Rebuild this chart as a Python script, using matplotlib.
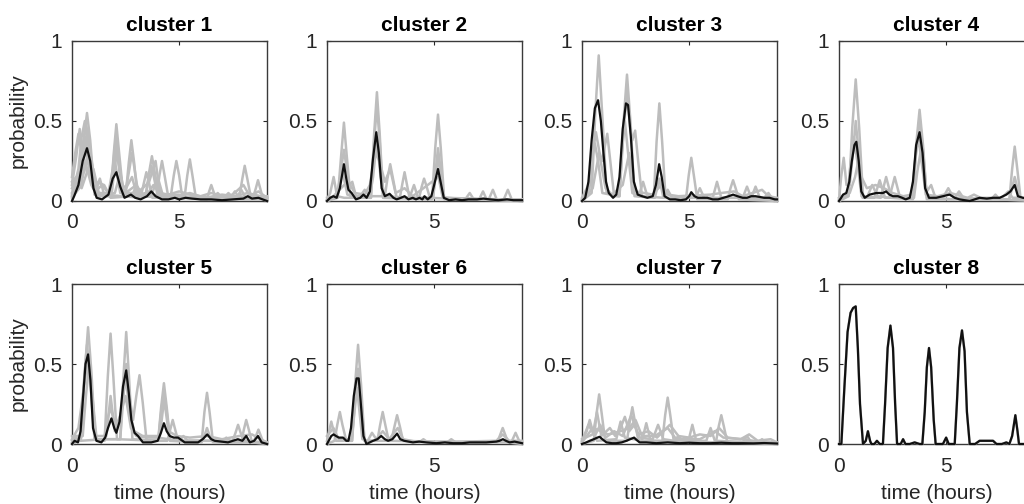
import numpy as np
import matplotlib
matplotlib.use("Agg")
import matplotlib.pyplot as plt

plt.rcParams['font.family'] = ['Liberation Sans', 'DejaVu Sans']

#--------------------------------------------------------------------------
# DATA  (time in hours, probability)

titles = ['cluster 1', 'cluster 2', 'cluster 3', 'cluster 4',
          'cluster 5', 'cluster 6', 'cluster 7', 'cluster 8']
x_ticks = [0, 5]
y_ticks = [0, 0.5, 1]
y_tick_labels = ['0', '0.5', '1']

# cluster 1
c1_mean = [(0, 0.0), (0.1, 0.03), (0.3, 0.10), (0.5, 0.25), (0.7, 0.33), (0.85, 0.25), (1.0, 0.08),
           (1.15, 0.02), (1.4, 0.01), (1.7, 0.04), (1.9, 0.14), (2.07, 0.18), (2.25, 0.09), (2.45, 0.02),
           (2.6, 0.03), (2.75, 0.04), (2.95, 0.02), (3.2, 0.01), (3.5, 0.03), (3.7, 0.06), (3.9, 0.03),
           (4.2, 0.01), (4.5, 0.01), (4.8, 0.02), (5.0, 0.01), (5.3, 0.02), (5.6, 0.015), (6.0, 0.01),
           (6.5, 0.01), (7.0, 0.005), (7.5, 0.01), (8.0, 0.015), (8.2, 0.03), (8.4, 0.015), (8.7, 0.02),
           (8.9, 0.01), (9.1, 0.0)]
c1_members = [
    [(0, 0.05), (0.35, 0.1), (0.55, 0.38), (0.7, 0.55), (0.85, 0.38), (1.05, 0.04), (1.8, 0.03), (1.95, 0.3),
     (2.07, 0.48), (2.2, 0.3), (2.4, 0.03), (3.45, 0.03), (3.6, 0.18), (3.73, 0.28), (3.86, 0.18), (4.05, 0.02),
     (7.8, 0.02), (7.95, 0.14), (8.06, 0.22), (8.18, 0.14), (8.35, 0.02), (9.1, 0.01)],
    [(0, 0.1), (0.2, 0.28), (0.36, 0.45), (0.5, 0.28), (0.7, 0.2), (0.9, 0.1), (1.2, 0.03), (2.5, 0.03),
     (2.65, 0.24), (2.77, 0.38), (2.9, 0.24), (3.05, 0.03), (4.6, 0.02), (4.75, 0.16), (4.87, 0.25), (5.0, 0.16),
     (5.15, 0.02), (6.3, 0.01), (6.4, 0.06), (6.5, 0.1), (6.6, 0.06), (6.75, 0.01), (9.1, 0.01)],
    [(0, 0.02), (0.45, 0.1), (0.58, 0.3), (0.72, 0.45), (0.86, 0.3), (1.0, 0.1), (1.2, 0.05), (1.8, 0.05),
     (1.95, 0.22), (2.07, 0.35), (2.2, 0.22), (2.35, 0.04), (3.95, 0.03), (4.08, 0.16), (4.2, 0.25), (4.32, 0.16),
     (4.5, 0.02), (8.45, 0.02), (8.58, 0.08), (8.68, 0.13), (8.78, 0.08), (8.92, 0.01), (9.1, 0.0)],
    [(0, 0.0), (0.3, 0.15), (0.48, 0.26), (0.6, 0.4), (0.72, 0.26), (0.9, 0.12), (1.1, 0.06), (1.3, 0.14),
     (1.5, 0.04), (3.2, 0.02), (3.35, 0.11), (3.47, 0.18), (3.6, 0.11), (3.75, 0.02), (5.25, 0.02), (5.38, 0.16),
     (5.5, 0.26), (5.62, 0.16), (5.78, 0.02), (7.4, 0.02), (7.6, 0.06), (7.8, 0.02), (9.1, 0.02)],
    [(0, 0.03), (0.5, 0.15), (0.68, 0.25), (0.8, 0.35), (0.92, 0.25), (1.1, 0.05), (1.85, 0.04), (1.98, 0.2),
     (2.1, 0.3), (2.22, 0.2), (2.4, 0.08), (2.55, 0.1), (2.68, 0.2), (2.8, 0.3), (2.92, 0.2), (3.1, 0.04),
     (3.45, 0.05), (3.58, 0.15), (3.7, 0.22), (3.82, 0.15), (4.0, 0.03), (7.7, 0.02), (7.9, 0.07), (8.1, 0.02),
     (9.1, 0.01)],
    [(0, 0.08), (0.25, 0.15), (0.5, 0.3), (0.7, 0.18), (1.0, 0.2), (1.25, 0.05), (1.75, 0.04), (2.0, 0.25),
     (2.25, 0.05), (2.6, 0.06), (3.0, 0.1), (3.3, 0.04), (3.75, 0.05), (4.0, 0.15), (4.25, 0.03), (7.1, 0.02),
     (7.3, 0.05), (7.5, 0.02), (9.1, 0.02)],
    [(0, 0.12), (0.2, 0.15), (0.45, 0.08), (0.75, 0.2), (0.9, 0.25), (1.1, 0.12), (1.5, 0.1), (1.8, 0.02),
     (2.8, 0.03), (3.0, 0.1), (3.2, 0.03), (5.0, 0.04), (5.3, 0.02), (6.6, 0.02), (6.8, 0.05), (7.0, 0.02),
     (9.1, 0.03)],
    [(0, 0.04), (0.3, 0.2), (0.45, 0.4), (0.6, 0.5), (0.75, 0.42), (0.9, 0.2), (1.1, 0.06), (1.4, 0.1),
     (1.7, 0.05), (1.9, 0.2), (2.05, 0.4), (2.2, 0.2), (2.4, 0.05), (2.8, 0.15), (3.0, 0.05), (3.3, 0.08),
     (3.6, 0.12), (3.9, 0.25), (4.1, 0.05), (4.5, 0.04), (5.0, 0.06), (5.5, 0.04), (6.0, 0.03), (6.5, 0.05),
     (7.0, 0.03), (7.5, 0.04), (8.0, 0.1), (8.3, 0.03), (8.7, 0.06), (9.1, 0.02)],
    [(0, 0.15), (0.15, 0.3), (0.3, 0.42), (0.45, 0.3), (0.65, 0.48), (0.8, 0.3), (1.0, 0.1), (1.3, 0.03),
     (2.0, 0.05), (2.2, 0.15), (2.4, 0.05), (2.9, 0.05), (3.5, 0.04), (3.8, 0.1), (4.2, 0.04), (5.0, 0.03),
     (5.5, 0.05), (6.2, 0.02), (7.0, 0.04), (7.6, 0.03), (8.2, 0.05), (9.1, 0.02)],
]

# cluster 2
c2_mean = [(0, 0.0), (0.15, 0.02), (0.3, 0.03), (0.45, 0.02), (0.6, 0.08), (0.79, 0.23), (0.9, 0.14),
           (1.0, 0.07), (1.15, 0.05), (1.35, 0.01), (1.55, 0.02), (1.7, 0.04), (1.85, 0.02), (2.0, 0.06),
           (2.15, 0.27), (2.3, 0.43), (2.42, 0.3), (2.55, 0.08), (2.7, 0.03), (2.92, 0.045), (3.1, 0.02),
           (3.25, 0.01), (3.45, 0.02), (3.62, 0.03), (3.8, 0.01), (4.0, 0.02), (4.15, 0.01), (4.32, 0.02),
           (4.45, 0.01), (4.55, 0.03), (4.7, 0.01), (4.87, 0.03), (5.0, 0.1), (5.18, 0.2), (5.3, 0.12),
           (5.45, 0.02), (5.7, 0.005), (6.0, 0.01), (6.3, 0.005), (6.6, 0.01), (7.0, 0.01), (7.3, 0.015),
           (7.6, 0.01), (8.0, 0.005), (8.4, 0.01), (8.7, 0.005), (9.1, 0.005)]
c2_members = [
    [(0, 0.0), (0.5, 0.02), (0.67, 0.3), (0.79, 0.49), (0.91, 0.3), (1.1, 0.02), (2.05, 0.02), (2.2, 0.42),
     (2.33, 0.68), (2.46, 0.42), (2.62, 0.02), (4.9, 0.01), (5.05, 0.33), (5.18, 0.54), (5.31, 0.33),
     (5.47, 0.01), (7.55, 0.01), (7.74, 0.07), (7.92, 0.01), (9.1, 0.0)],
    [(0, 0.01), (0.15, 0.05), (0.31, 0.15), (0.47, 0.03), (0.8, 0.02), (2.05, 0.02), (2.2, 0.37), (2.33, 0.6),
     (2.46, 0.37), (2.62, 0.02), (3.4, 0.02), (3.52, 0.11), (3.62, 0.18), (3.72, 0.11), (3.85, 0.02),
     (4.95, 0.02), (5.08, 0.2), (5.18, 0.33), (5.3, 0.2), (5.45, 0.02), (8.25, 0.01), (8.44, 0.07),
     (8.62, 0.01), (9.1, 0.01)],
    [(0, 0.0), (0.5, 0.03), (0.66, 0.2), (0.79, 0.32), (0.92, 0.2), (1.05, 0.1), (1.18, 0.12), (1.35, 0.03),
     (2.7, 0.03), (2.82, 0.14), (2.95, 0.23), (3.08, 0.14), (3.25, 0.02), (4.3, 0.02), (4.42, 0.09),
     (4.53, 0.14), (4.65, 0.09), (4.8, 0.02), (6.45, 0.01), (6.66, 0.05), (6.85, 0.01), (9.1, 0.0)],
    [(0, 0.02), (0.45, 0.03), (0.7, 0.2), (0.95, 0.04), (1.5, 0.02), (1.76, 0.07), (2.0, 0.03), (2.15, 0.15),
     (2.33, 0.38), (2.5, 0.15), (2.7, 0.03), (3.85, 0.02), (4.06, 0.1), (4.25, 0.02), (4.95, 0.02), (5.08, 0.17),
     (5.18, 0.27), (5.3, 0.17), (5.45, 0.02), (7.1, 0.01), (7.28, 0.06), (7.45, 0.01), (9.1, 0.01)],
    [(0, 0.0), (0.3, 0.03), (0.8, 0.1), (1.0, 0.12), (1.3, 0.05), (1.76, 0.04), (2.0, 0.1), (2.25, 0.3),
     (2.45, 0.25), (2.7, 0.12), (2.95, 0.2), (3.2, 0.05), (3.62, 0.08), (4.0, 0.03), (5.2, 0.15), (5.4, 0.02),
     (9.1, 0.0)],
]

# cluster 3
c3_mean = [(0, 0.0), (0.15, 0.02), (0.3, 0.12), (0.45, 0.38), (0.6, 0.58), (0.75, 0.63), (0.88, 0.5),
           (1.0, 0.3), (1.12, 0.12), (1.25, 0.05), (1.45, 0.02), (1.6, 0.04), (1.75, 0.15), (1.9, 0.45),
           (2.05, 0.61), (2.15, 0.6), (2.28, 0.4), (2.42, 0.12), (2.6, 0.04), (2.8, 0.03), (3.05, 0.02),
           (3.3, 0.03), (3.45, 0.1), (3.6, 0.23), (3.72, 0.15), (3.85, 0.03), (4.1, 0.01), (4.35, 0.01),
           (4.6, 0.005), (4.85, 0.01), (5.0, 0.03), (5.1, 0.055), (5.25, 0.03), (5.4, 0.02), (5.6, 0.02),
           (5.85, 0.02), (6.1, 0.01), (6.35, 0.01), (6.6, 0.02), (6.85, 0.03), (7.05, 0.04), (7.25, 0.03),
           (7.5, 0.02), (7.7, 0.02), (7.9, 0.03), (8.1, 0.03), (8.3, 0.025), (8.5, 0.02), (8.75, 0.02),
           (9.0, 0.01), (9.1, 0.01)]
c3_members = [
    [(0, 0.0), (0.45, 0.05), (0.62, 0.55), (0.78, 0.91), (0.94, 0.55), (1.15, 0.05), (1.75, 0.03), (1.93, 0.48),
     (2.1, 0.79), (2.27, 0.48), (2.45, 0.03), (3.35, 0.02), (3.48, 0.37), (3.61, 0.61), (3.74, 0.37), (3.9, 0.02),
     (4.85, 0.01), (4.98, 0.16), (5.1, 0.27), (5.22, 0.16), (5.38, 0.01), (6.8, 0.01), (6.93, 0.08),
     (7.05, 0.13), (7.17, 0.08), (7.32, 0.01), (9.1, 0.0)],
    [(0, 0.01), (0.35, 0.08), (0.5, 0.3), (0.65, 0.43), (0.82, 0.3), (0.95, 0.25), (1.05, 0.33), (1.18, 0.42),
     (1.32, 0.25), (1.5, 0.03), (1.75, 0.03), (1.93, 0.42), (2.1, 0.7), (2.25, 0.45), (2.35, 0.38), (2.48, 0.44),
     (2.62, 0.25), (2.8, 0.03), (3.8, 0.02), (4.0, 0.07), (4.2, 0.02), (6.1, 0.02), (6.3, 0.12), (6.5, 0.02),
     (7.9, 0.02), (8.1, 0.09), (8.3, 0.02), (9.1, 0.01)],
    [(0, 0.02), (0.3, 0.1), (0.45, 0.25), (0.6, 0.36), (0.75, 0.25), (0.95, 0.05), (1.7, 0.03), (1.85, 0.3),
     (2.0, 0.5), (2.15, 0.3), (2.35, 0.05), (2.65, 0.03), (2.85, 0.12), (3.05, 0.03), (3.4, 0.02), (3.61, 0.14),
     (3.8, 0.02), (5.3, 0.02), (5.5, 0.08), (5.7, 0.02), (7.5, 0.02), (7.7, 0.09), (7.9, 0.02), (8.5, 0.02),
     (8.7, 0.05), (8.9, 0.01), (9.1, 0.01)],
    [(0, 0.0), (0.5, 0.08), (0.8, 0.3), (1.1, 0.08), (1.4, 0.04), (1.9, 0.1), (2.2, 0.3), (2.5, 0.06),
     (2.9, 0.05), (3.3, 0.04), (3.7, 0.1), (4.0, 0.04), (4.5, 0.03), (6.0, 0.04), (6.5, 0.05), (7.1, 0.06),
     (7.5, 0.03), (8.4, 0.07), (8.7, 0.03), (9.1, 0.02)],
]

# cluster 4
c4_mean = [(0, 0.0), (0.1, 0.02), (0.19, 0.04), (0.34, 0.05), (0.48, 0.12), (0.6, 0.25), (0.72, 0.35),
           (0.81, 0.37), (0.92, 0.25), (1.04, 0.06), (1.2, 0.02), (1.43, 0.04), (1.74, 0.05), (2.05, 0.05),
           (2.2, 0.06), (2.35, 0.04), (2.52, 0.03), (2.75, 0.03), (2.95, 0.02), (3.11, 0.01), (3.3, 0.02),
           (3.45, 0.12), (3.6, 0.35), (3.76, 0.43), (3.9, 0.3), (4.02, 0.08), (4.2, 0.02), (4.54, 0.02),
           (4.85, 0.03), (5.16, 0.04), (5.4, 0.02), (5.63, 0.01), (6.1, 0.0), (6.56, 0.02), (6.9, 0.015),
           (7.19, 0.02), (7.5, 0.02), (7.81, 0.04), (8.0, 0.06), (8.2, 0.1), (8.35, 0.03), (8.58, 0.02),
           (9.1, 0.01)]
c4_members = [
    [(0, 0.0), (0.45, 0.03), (0.62, 0.46), (0.78, 0.76), (0.94, 0.46), (1.12, 0.03), (1.95, 0.02), (2.2, 0.15),
     (2.45, 0.02), (3.45, 0.01), (3.6, 0.35), (3.76, 0.57), (3.92, 0.35), (4.1, 0.01), (7.95, 0.01),
     (8.08, 0.2), (8.2, 0.34), (8.32, 0.2), (8.48, 0.01), (9.1, 0.0)],
    [(0, 0.0), (0.1, 0.15), (0.22, 0.27), (0.35, 0.1), (0.5, 0.1), (0.65, 0.3), (0.78, 0.5), (0.92, 0.3),
     (1.1, 0.02), (1.65, 0.02), (1.9, 0.13), (2.15, 0.02), (3.45, 0.02), (3.6, 0.32), (3.76, 0.52), (3.92, 0.32),
     (4.1, 0.02), (4.85, 0.02), (5.1, 0.08), (5.35, 0.02), (7.95, 0.01), (8.2, 0.15), (8.45, 0.01), (9.1, 0.0)],
    [(0, 0.01), (0.4, 0.03), (0.55, 0.25), (0.7, 0.4), (0.85, 0.25), (1.05, 0.03), (1.3, 0.02), (1.55, 0.1),
     (1.8, 0.03), (2.35, 0.02), (2.6, 0.15), (2.85, 0.02), (3.5, 0.02), (3.65, 0.18), (3.8, 0.3), (3.95, 0.18),
     (4.1, 0.06), (4.3, 0.1), (4.5, 0.02), (5.35, 0.01), (5.6, 0.06), (5.85, 0.01), (7.1, 0.01), (7.3, 0.04),
     (7.5, 0.01), (9.1, 0.0)],
    [(0, 0.02), (0.5, 0.05), (0.75, 0.15), (0.9, 0.25), (1.05, 0.15), (1.3, 0.08), (1.7, 0.1), (2.1, 0.08),
     (2.5, 0.05), (3.0, 0.03), (3.4, 0.04), (3.55, 0.25), (3.7, 0.4), (3.85, 0.25), (4.05, 0.04), (4.6, 0.03),
     (5.2, 0.05), (6.0, 0.02), (6.3, 0.04), (6.6, 0.02), (7.6, 0.02), (7.9, 0.06), (8.1, 0.02), (9.1, 0.02)],
]

# cluster 5
c5_mean = [(0, 0.0), (0.12, 0.02), (0.28, 0.01), (0.4, 0.08), (0.51, 0.28), (0.63, 0.5), (0.75, 0.56),
           (0.86, 0.4), (0.98, 0.1), (1.14, 0.02), (1.37, 0.01), (1.55, 0.04), (1.68, 0.1), (1.84, 0.16),
           (1.97, 0.1), (2.07, 0.07), (2.22, 0.14), (2.38, 0.36), (2.53, 0.46), (2.65, 0.32), (2.77, 0.15),
           (2.92, 0.07), (3.08, 0.05), (3.31, 0.01), (3.7, 0.01), (4.0, 0.02), (4.15, 0.07), (4.29, 0.13),
           (4.42, 0.08), (4.56, 0.05), (4.75, 0.04), (4.95, 0.04), (5.26, 0.01), (5.88, 0.01), (6.1, 0.03),
           (6.31, 0.06), (6.5, 0.03), (6.66, 0.02), (7.28, 0.01), (7.74, 0.03), (7.95, 0.02), (8.13, 0.05),
           (8.3, 0.01), (8.5, 0.02), (8.68, 0.05), (8.85, 0.01), (9.1, 0.0)]
c5_members = [
    [(0, 0.0), (0.42, 0.03), (0.59, 0.44), (0.75, 0.73), (0.91, 0.44), (1.08, 0.03), (1.52, 0.02), (1.67, 0.42),
     (1.8, 0.69), (1.93, 0.42), (2.1, 0.03), (4.02, 0.02), (4.16, 0.23), (4.29, 0.38), (4.42, 0.23), (4.58, 0.02),
     (6.05, 0.01), (6.18, 0.2), (6.3, 0.32), (6.42, 0.2), (6.58, 0.01), (7.9, 0.01), (8.02, 0.09), (8.13, 0.15),
     (8.25, 0.09), (8.4, 0.01), (9.1, 0.0)],
    [(0, 0.05), (0.4, 0.05), (0.55, 0.38), (0.7, 0.62), (0.86, 0.38), (1.05, 0.03), (2.25, 0.03), (2.4, 0.42),
     (2.53, 0.7), (2.66, 0.42), (2.82, 0.03), (4.02, 0.02), (4.16, 0.2), (4.29, 0.33), (4.42, 0.2), (4.58, 0.02),
     (7.5, 0.02), (7.63, 0.07), (7.75, 0.12), (7.87, 0.07), (8.05, 0.02), (9.1, 0.01)],
    [(0, 0.02), (0.5, 0.05), (0.65, 0.3), (0.8, 0.5), (0.95, 0.3), (1.15, 0.03), (2.25, 0.03), (2.4, 0.3),
     (2.53, 0.5), (2.68, 0.3), (2.85, 0.15), (3.0, 0.3), (3.15, 0.43), (3.3, 0.26), (3.48, 0.02), (4.45, 0.02),
     (4.7, 0.15), (4.95, 0.02), (8.5, 0.02), (8.7, 0.09), (8.9, 0.02), (9.1, 0.01)],
    [(0, 0.01), (0.2, 0.05), (0.4, 0.02), (1.5, 0.03), (1.65, 0.15), (1.8, 0.23), (2.0, 0.12), (2.2, 0.15),
     (2.5, 0.3), (2.75, 0.1), (3.0, 0.05), (3.5, 0.04), (4.0, 0.04), (5.0, 0.02), (5.2, 0.05), (5.4, 0.02),
     (6.1, 0.02), (6.3, 0.1), (6.5, 0.02), (7.0, 0.01), (7.2, 0.04), (7.4, 0.01), (9.1, 0.01)],
    [(0, 0.03), (0.3, 0.1), (0.6, 0.4), (0.75, 0.55), (0.9, 0.35), (1.1, 0.05), (1.6, 0.05), (1.8, 0.3),
     (2.0, 0.08), (2.3, 0.2), (2.5, 0.42), (2.7, 0.2), (2.9, 0.08), (3.3, 0.05), (4.1, 0.05), (4.3, 0.28),
     (4.5, 0.08), (4.9, 0.05), (5.5, 0.04), (6.3, 0.05), (7.0, 0.03), (7.8, 0.05), (8.4, 0.06), (8.8, 0.03),
     (9.1, 0.01)],
]

# cluster 6
c6_mean = [(0, 0.0), (0.12, 0.03), (0.2, 0.05), (0.31, 0.06), (0.42, 0.05), (0.55, 0.04), (0.75, 0.04),
           (0.9, 0.02), (1.0, 0.02), (1.12, 0.1), (1.25, 0.3), (1.38, 0.41), (1.48, 0.41), (1.58, 0.25),
           (1.7, 0.05), (1.84, 0.0), (2.15, 0.02), (2.35, 0.03), (2.53, 0.05), (2.7, 0.03), (2.85, 0.02),
           (3.05, 0.03), (3.27, 0.065), (3.42, 0.03), (3.6, 0.02), (4.01, 0.01), (4.3, 0.015), (4.63, 0.01),
           (5.1, 0.005), (5.5, 0.01), (5.88, 0.005), (6.3, 0.005), (6.66, 0.01), (7.0, 0.01), (7.43, 0.01),
           (7.9, 0.015), (8.05, 0.02), (8.21, 0.03), (8.35, 0.02), (8.52, 0.01), (8.75, 0.015), (9.1, 0.005)]
c6_members = [
    [(0, 0.0), (0.35, 0.02), (0.48, 0.12), (0.6, 0.2), (0.72, 0.12), (0.9, 0.02), (1.17, 0.02), (1.31, 0.37),
     (1.45, 0.62), (1.59, 0.37), (1.75, 0.02), (2.35, 0.02), (2.48, 0.12), (2.6, 0.2), (2.72, 0.12),
     (2.88, 0.02), (7.95, 0.01), (8.2, 0.1), (8.45, 0.01), (9.1, 0.0)],
    [(0, 0.02), (0.2, 0.14), (0.42, 0.02), (1.17, 0.02), (1.31, 0.28), (1.45, 0.47), (1.59, 0.28), (1.75, 0.02),
     (3.0, 0.02), (3.15, 0.11), (3.27, 0.18), (3.4, 0.11), (3.55, 0.02), (5.6, 0.01), (5.8, 0.03), (6.0, 0.01),
     (8.6, 0.01), (8.8, 0.07), (9.0, 0.01), (9.1, 0.01)],
    [(0, 0.05), (0.3, 0.1), (0.55, 0.03), (1.15, 0.03), (1.4, 0.35), (1.65, 0.03), (1.9, 0.02), (2.1, 0.07),
     (2.3, 0.03), (2.6, 0.08), (2.9, 0.03), (3.3, 0.1), (3.55, 0.03), (4.3, 0.01), (4.5, 0.03), (4.7, 0.01),
     (7.9, 0.02), (8.2, 0.06), (8.5, 0.02), (9.1, 0.02)],
]

# cluster 7
c7_mean = [(0, 0.0), (0.2, 0.01), (0.36, 0.02), (0.55, 0.03), (0.72, 0.04), (0.82, 0.045), (0.95, 0.03),
           (1.14, 0.01), (1.4, 0.005), (1.6, 0.005), (1.85, 0.01), (2.07, 0.02), (2.25, 0.03), (2.43, 0.04),
           (2.55, 0.025), (2.69, 0.01), (3.0, 0.01), (3.47, 0.005), (4.0, 0.01), (4.56, 0.005), (5.0, 0.008),
           (5.5, 0.005), (6.0, 0.005), (6.5, 0.008), (7.0, 0.005), (7.5, 0.005), (8.0, 0.004), (8.5, 0.006),
           (9.1, 0.003)]
c7_members = [
    [(0, 0.0), (0.55, 0.02), (0.68, 0.19), (0.8, 0.31), (0.92, 0.19), (1.08, 0.02), (2.1, 0.02), (2.23, 0.14),
     (2.35, 0.23), (2.47, 0.14), (2.63, 0.02), (3.75, 0.02), (3.88, 0.18), (4.0, 0.29), (4.12, 0.18),
     (4.28, 0.02), (6.25, 0.01), (6.38, 0.11), (6.5, 0.18), (6.62, 0.11), (6.78, 0.01), (9.1, 0.0)],
    [(0, 0.02), (0.22, 0.08), (0.36, 0.15), (0.5, 0.08), (0.7, 0.02), (1.6, 0.03), (1.8, 0.14), (2.0, 0.04),
     (2.8, 0.02), (3.0, 0.13), (3.2, 0.02), (4.95, 0.01), (5.15, 0.12), (5.35, 0.01), (7.5, 0.01), (7.7, 0.05),
     (7.9, 0.01), (9.1, 0.0)],
    [(0, 0.03), (0.5, 0.06), (0.7, 0.2), (0.9, 0.05), (1.3, 0.1), (1.55, 0.05), (1.8, 0.1), (2.0, 0.17),
     (2.2, 0.08), (2.45, 0.12), (2.7, 0.04), (3.3, 0.03), (3.55, 0.12), (3.8, 0.03), (4.3, 0.02), (4.5, 0.05),
     (4.7, 0.02), (5.8, 0.02), (6.0, 0.1), (6.2, 0.02), (8.2, 0.01), (8.4, 0.03), (8.6, 0.01), (9.1, 0.01)],
    [(0, 0.01), (0.5, 0.1), (0.9, 0.08), (1.2, 0.06), (1.6, 0.07), (2.2, 0.1), (2.5, 0.15), (2.8, 0.05),
     (3.4, 0.05), (4.0, 0.1), (4.4, 0.03), (5.5, 0.03), (6.2, 0.08), (6.6, 0.04), (7.5, 0.03), (8.0, 0.02),
     (9.1, 0.01)],
    [(0, 0.02), (0.3, 0.12), (0.6, 0.05), (0.85, 0.12), (1.1, 0.04), (1.5, 0.08), (1.9, 0.05), (2.3, 0.18),
     (2.6, 0.06), (3.1, 0.08), (3.5, 0.04), (4.1, 0.12), (4.5, 0.05), (5.0, 0.04), (5.5, 0.06), (6.0, 0.05),
     (6.4, 0.1), (6.8, 0.04), (7.4, 0.03), (7.8, 0.06), (8.2, 0.02), (8.8, 0.03), (9.1, 0.01)],
]

# cluster 8 (single member, so the mean is the member)
c8_mean = [(0, 0.0), (0.11, 0.0), (0.25, 0.35), (0.4, 0.7), (0.54, 0.82), (0.66, 0.85), (0.78, 0.86),
           (0.88, 0.6), (0.98, 0.25), (1.12, 0.0), (1.25, 0.02), (1.35, 0.08), (1.45, 0.02), (1.51, 0.0),
           (1.65, 0.0), (1.77, 0.02), (1.9, 0.0), (2.05, 0.0), (2.15, 0.25), (2.27, 0.6), (2.4, 0.74),
           (2.52, 0.6), (2.62, 0.25), (2.71, 0.0), (2.88, 0.0), (2.99, 0.03), (3.1, 0.0), (3.3, 0.0),
           (3.53, 0.01), (3.76, 0.0), (3.89, 0.0), (4.0, 0.2), (4.1, 0.48), (4.2, 0.6), (4.3, 0.48),
           (4.42, 0.15), (4.51, 0.0), (4.85, 0.0), (5.0, 0.04), (5.12, 0.0), (5.4, 0.0), (5.5, 0.25),
           (5.62, 0.6), (5.74, 0.71), (5.86, 0.58), (5.97, 0.2), (6.1, 0.0), (6.35, 0.0), (6.56, 0.02),
           (7.19, 0.02), (7.35, 0.0), (7.6, 0.0), (7.81, 0.01), (7.95, 0.0), (8.08, 0.05), (8.23, 0.18),
           (8.33, 0.08), (8.4, 0.0), (9.1, 0.0)]
c8_members = [c8_mean]

means = [c1_mean, c2_mean, c3_mean, c4_mean, c5_mean, c6_mean, c7_mean, c8_mean]
members = [c1_members, c2_members, c3_members, c4_members, c5_members, c6_members, c7_members, c8_members]

#--------------------------------------------------------------------------
# FIGURE

fig = plt.figure(figsize=(10.24, 5.04), dpi=100)

# axes boxes in pixels (left, top) -- last column runs off the right edge
col_left = [72, 327, 582, 839]
row_top = [41, 284]
ax_w, ax_h = 195, 160
W, H = 1024, 504

grey_txt = '#262626'
for k in range(8):
    r, c = divmod(k, 4)
    ax = fig.add_axes([col_left[c] / W, 1 - (row_top[r] + ax_h) / H, ax_w / W, ax_h / H])

    for m in members[k]:
        t, p = zip(*m)
        ax.plot(t, p, color='#bdbdbd', lw=1.8, zorder=3, clip_on=False, solid_joinstyle='round')
    t, p = zip(*means[k])
    ax.plot(t, p, color='#111111', lw=1.6, zorder=4, clip_on=False, solid_joinstyle='round')

    ax.set_xlim(0, 9.1)
    ax.set_ylim(0, 1)
    ax.set_xticks(x_ticks)
    ax.set_yticks(y_ticks)
    ax.set_yticklabels(y_tick_labels)
    ax.tick_params(direction='in', top=True, right=True, length=3, width=0.8,
                   color=grey_txt, labelcolor=grey_txt, labelsize=15)
    ax.tick_params(axis='x', pad=9)
    ax.tick_params(axis='y', pad=7)
    for s in ax.spines.values():
        s.set_color('#3a3a3a')
        s.set_linewidth(1.0)
        s.set_zorder(2)

    ax.set_title(titles[k], fontsize=15, fontweight='bold', pad=7)
    if c == 0:
        ax.set_ylabel('probability', fontsize=15, color=grey_txt, labelpad=4)
    if r == 1:
        ax.set_xlabel('time (hours)', fontsize=15, color=grey_txt, labelpad=6)

fig.savefig('out.png', dpi=100)
